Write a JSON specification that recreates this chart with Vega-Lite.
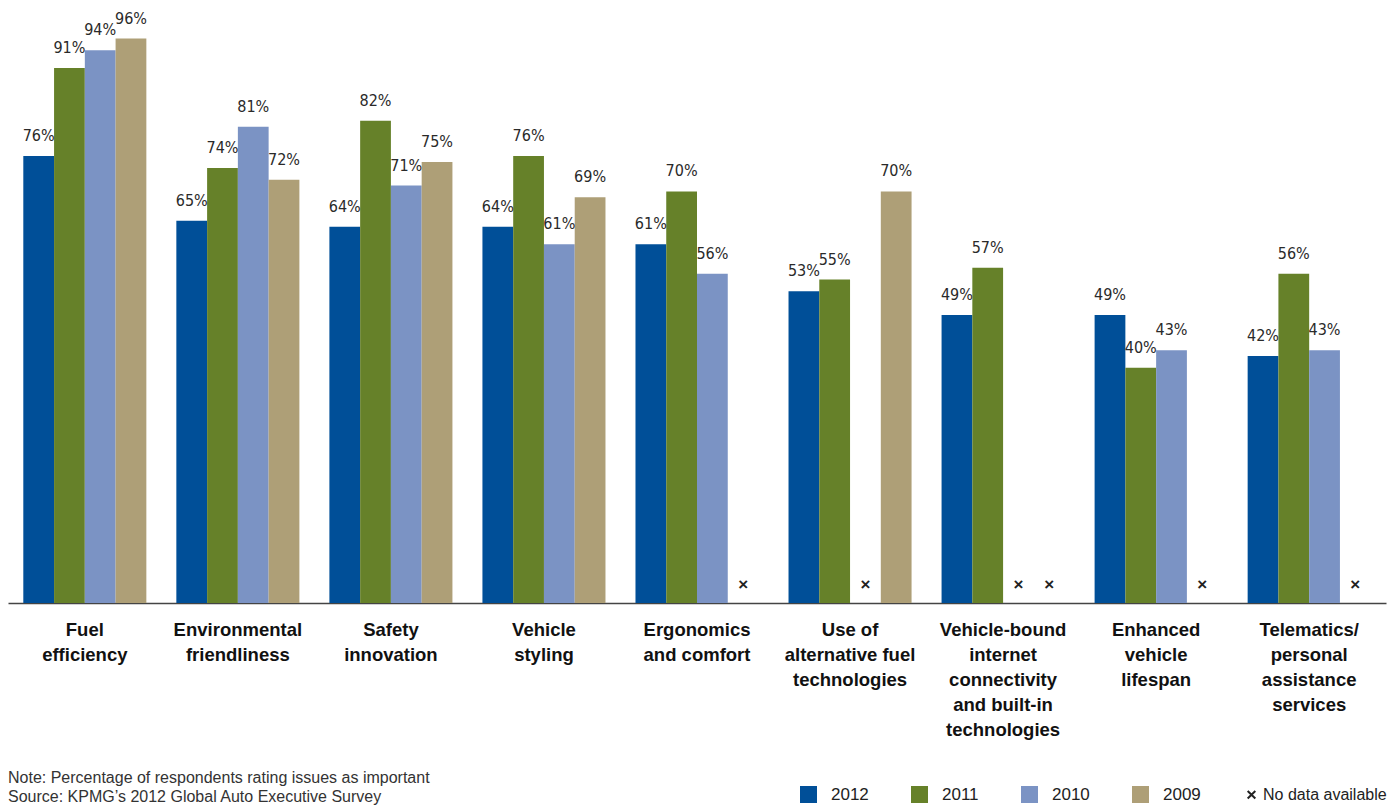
{
  "$schema": "https://vega.github.io/schema/vega-lite/v6.json",
  "width": 1378,
  "height": 588,
  "autosize": {"type": "none"},
  "padding": {"left": 8, "top": 15, "right": 6, "bottom": 202},
  "background": "white",
  "config": {"view": {"stroke": null}, "font": "Liberation Sans"},
  "title": {
    "text": ["Note: Percentage of respondents rating issues as important", "Source: KPMG’s 2012 Global Auto Executive Survey"],
    "orient": "bottom",
    "anchor": "start",
    "frame": "group",
    "fontSize": 16,
    "fontWeight": "normal",
    "font": "Liberation Sans",
    "color": "#333333",
    "lineHeight": 19,
    "offset": -33
  },
  "data": {
    "values": [
      {"category": "Fuel|efficiency", "year": "2012", "value": 0.76},
      {"category": "Fuel|efficiency", "year": "2011", "value": 0.91},
      {"category": "Fuel|efficiency", "year": "2010", "value": 0.94},
      {"category": "Fuel|efficiency", "year": "2009", "value": 0.96},
      {"category": "Environmental|friendliness", "year": "2012", "value": 0.65},
      {"category": "Environmental|friendliness", "year": "2011", "value": 0.74},
      {"category": "Environmental|friendliness", "year": "2010", "value": 0.81},
      {"category": "Environmental|friendliness", "year": "2009", "value": 0.72},
      {"category": "Safety|innovation", "year": "2012", "value": 0.64},
      {"category": "Safety|innovation", "year": "2011", "value": 0.82},
      {"category": "Safety|innovation", "year": "2010", "value": 0.71},
      {"category": "Safety|innovation", "year": "2009", "value": 0.75},
      {"category": "Vehicle|styling", "year": "2012", "value": 0.64},
      {"category": "Vehicle|styling", "year": "2011", "value": 0.76},
      {"category": "Vehicle|styling", "year": "2010", "value": 0.61},
      {"category": "Vehicle|styling", "year": "2009", "value": 0.69},
      {"category": "Ergonomics|and comfort", "year": "2012", "value": 0.61},
      {"category": "Ergonomics|and comfort", "year": "2011", "value": 0.70},
      {"category": "Ergonomics|and comfort", "year": "2010", "value": 0.56},
      {"category": "Ergonomics|and comfort", "year": "2009", "value": null},
      {"category": "Use of|alternative fuel|technologies", "year": "2012", "value": 0.53},
      {"category": "Use of|alternative fuel|technologies", "year": "2011", "value": 0.55},
      {"category": "Use of|alternative fuel|technologies", "year": "2010", "value": null},
      {"category": "Use of|alternative fuel|technologies", "year": "2009", "value": 0.70},
      {"category": "Vehicle-bound|internet|connectivity|and built-in|technologies", "year": "2012", "value": 0.49},
      {"category": "Vehicle-bound|internet|connectivity|and built-in|technologies", "year": "2011", "value": 0.57},
      {"category": "Vehicle-bound|internet|connectivity|and built-in|technologies", "year": "2010", "value": null},
      {"category": "Vehicle-bound|internet|connectivity|and built-in|technologies", "year": "2009", "value": null},
      {"category": "Enhanced|vehicle|lifespan", "year": "2012", "value": 0.49},
      {"category": "Enhanced|vehicle|lifespan", "year": "2011", "value": 0.40},
      {"category": "Enhanced|vehicle|lifespan", "year": "2010", "value": 0.43},
      {"category": "Enhanced|vehicle|lifespan", "year": "2009", "value": null},
      {"category": "Telematics/|personal|assistance|services", "year": "2012", "value": 0.42},
      {"category": "Telematics/|personal|assistance|services", "year": "2011", "value": 0.56},
      {"category": "Telematics/|personal|assistance|services", "year": "2010", "value": 0.43},
      {"category": "Telematics/|personal|assistance|services", "year": "2009", "value": null}
    ]
  },
  "encoding": {
    "x": {
      "field": "category",
      "type": "nominal",
      "sort": null,
      "scale": {"paddingInner": 0.196, "paddingOuter": 0.1},
      "axis": {
        "title": null,
        "labelAngle": 0,
        "ticks": false,
        "tickSize": 0,
        "labelPadding": 17,
        "labelFont": "Liberation Sans",
        "labelFontSize": 18.5,
        "labelFontWeight": "bold",
        "labelColor": "#111111",
        "labelLineHeight": 25,
        "labelBaseline": "top",
        "labelOverlap": false,
        "labelBound": false,
        "labelLimit": 0,
        "labelExpr": "split(datum.label, '|')",
        "domainColor": "#444444",
        "domainWidth": 1.5
      }
    },
    "xOffset": {"field": "year", "type": "nominal", "sort": ["2012", "2011", "2010", "2009"]}
  },
  "layer": [
    {
      "mark": {"type": "bar"},
      "encoding": {
        "y": {"field": "value", "type": "quantitative", "scale": {"domain": [0, 1]}, "axis": null},
        "color": {
          "field": "year",
          "type": "nominal",
          "scale": {
            "domain": ["2012", "2011", "2010", "2009", "No data available"],
            "range": ["#004f98", "#668129", "#7b93c4", "#ae9f77", "#222222"]
          },
          "legend": {
            "orient": "none",
            "legendX": 792,
            "legendY": 771,
            "direction": "horizontal",
            "title": null,
            "symbolType": "square",
            "symbolSize": 289,
            "symbolStrokeWidth": 0,
            "labelFont": "Liberation Sans",
            "labelFontSize": 17,
            "labelOffset": 14,
            "labelColor": "#222222",
            "columnPadding": 42,
            "encode": {
              "symbols": {
                "update": {
                  "shape": {"signal": "datum.value === 'No data available' ? 'M-0.45,-0.45L0.45,0.45M-0.45,0.45L0.45,-0.45' : 'square'"},
                  "stroke": {"signal": "datum.value === 'No data available' ? '#222222' : null"},
                  "strokeWidth": {"signal": "datum.value === 'No data available' ? 2 : 0"}
                }
              },
              "labels": {
                "update": {
                  "dx": {"signal": "datum.value === 'No data available' ? -11 : 0"},
                  "fontSize": {"signal": "datum.value === 'No data available' ? 16 : 17"}
                }
              }
            }
          }
        }
      }
    },
    {
      "mark": {"type": "text", "baseline": "alphabetic", "dy": -15, "font": "DejaVu Sans Condensed", "fontSize": 16, "color": "#2a2a2a"},
      "encoding": {
        "y": {"field": "value", "type": "quantitative"},
        "text": {"field": "value", "type": "quantitative", "format": ".0%"}
      }
    },
    {
      "transform": [{"filter": "datum.value === null"}],
      "mark": {"type": "text", "text": "×", "baseline": "middle", "dy": -18, "font": "Liberation Sans", "fontSize": 17, "fontWeight": "bold", "color": "#222222"},
      "encoding": {
        "y": {"datum": 0, "type": "quantitative"}
      }
    }
  ]
}
